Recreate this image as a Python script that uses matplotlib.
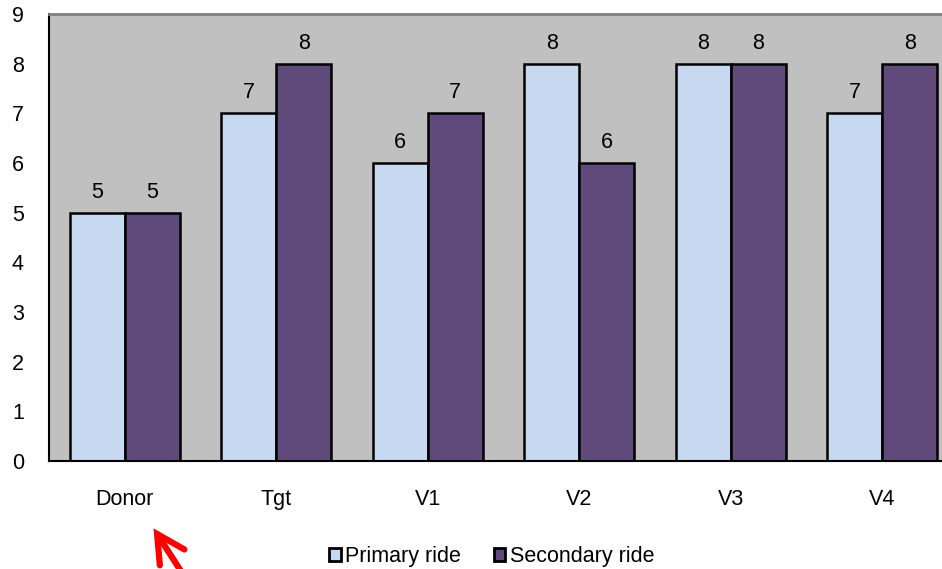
import numpy as np
import matplotlib
matplotlib.use("Agg")
import matplotlib.pyplot as plt
from matplotlib.patches import Patch, FancyArrowPatch

plt.rcParams['font.family'] = ['Liberation Sans', 'DejaVu Sans']

categories = ['Donor', 'Tgt', 'V1', 'V2', 'V3', 'V4']
primary = [5, 7, 6, 8, 8, 7]
secondary = [5, 8, 7, 6, 8, 8]
series_names = ['Primary ride', 'Secondary ride']
colors = ['#C6D9F1', '#604A7B']

fig = plt.figure(figsize=(9.42, 5.69), dpi=100)
ax = fig.add_axes([0.052, 0.1898, 0.965, 0.7856])
ax.set_facecolor('#C0C0C0')

x = np.arange(len(categories))
w = 0.363
b1 = ax.bar(x - w / 2, primary, w, color=colors[0], edgecolor='black', linewidth=1.8)
b2 = ax.bar(x + w / 2, secondary, w, color=colors[1], edgecolor='black', linewidth=1.8)

for bars, vals in [(b1, primary), (b2, secondary)]:
    for r, v in zip(bars, vals):
        ax.text(r.get_x() + r.get_width() / 2, v + 0.2, str(v),
                ha='center', va='bottom', fontsize=15.5)

ax.set_xlim(-0.5, len(categories) - 0.5)
ax.set_ylim(0, 9)
ax.set_yticks(range(10))
ax.set_xticks(x)
ax.set_xticklabels(categories)
ax.tick_params(axis='both', length=0, labelsize=15.5)
ax.tick_params(axis='x', pad=20)
ax.tick_params(axis='y', pad=18)

ax.spines['top'].set_color('#808080')
ax.spines['top'].set_linewidth(2)
ax.spines['left'].set_linewidth(1.5)
ax.spines['bottom'].set_linewidth(1.5)
ax.spines['right'].set_visible(False)

handles = [Patch(facecolor=c, edgecolor='black', linewidth=2) for c in colors]
fig.legend(handles, series_names, loc='center', bbox_to_anchor=(0.522, 0.022),
           ncol=2, frameon=False, fontsize=15.5, handlelength=0.55, handleheight=0.55,
           handletextpad=0.2, columnspacing=1.5)

# red arrow pointing at the donor label
fig.patches.append(FancyArrowPatch(
    (186 / 942, -10 / 569), (152 / 942, 1 - 526 / 569), transform=fig.transFigure,
    arrowstyle='->,head_length=20,head_width=10.5', color='red', linewidth=4.5,
    mutation_scale=1, capstyle='round', joinstyle='miter'))

fig.savefig('out.png', dpi=100)
